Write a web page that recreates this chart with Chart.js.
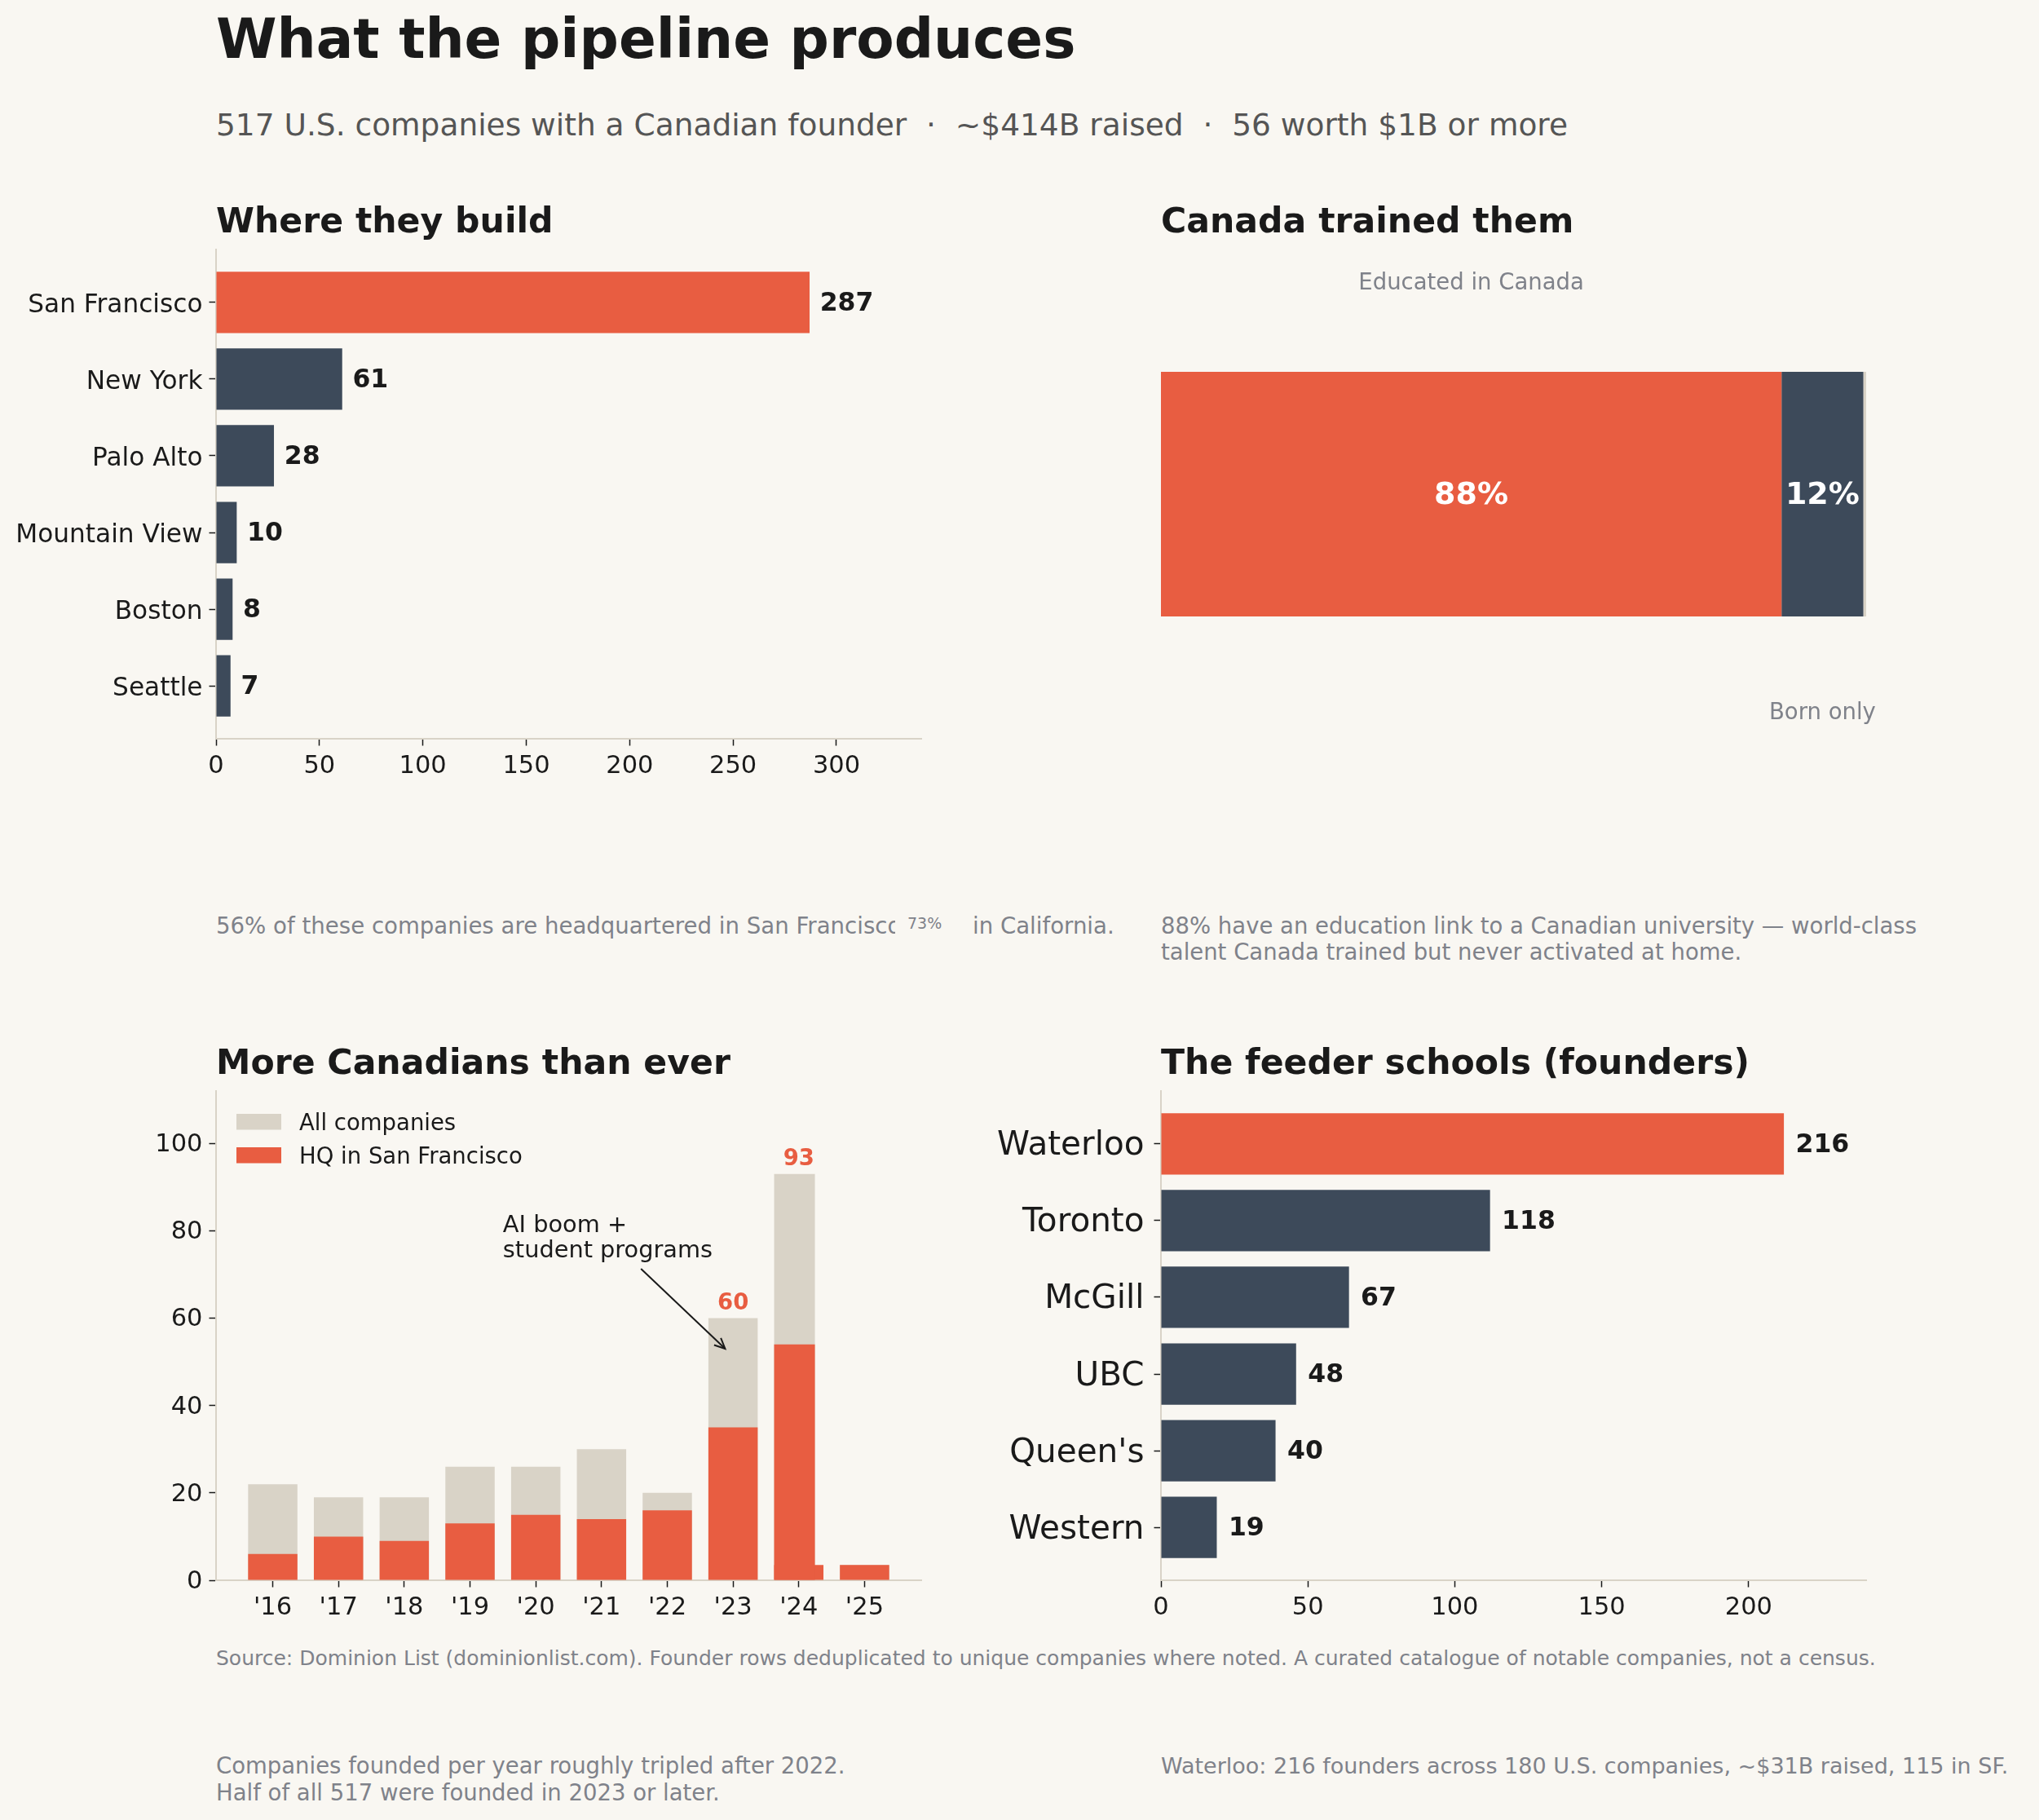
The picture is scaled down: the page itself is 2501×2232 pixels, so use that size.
<!DOCTYPE html>
<html lang="en">
<head>
<meta charset="utf-8">
<title>What the pipeline produces</title>
<script src="https://cdn.jsdelivr.net/npm/chart.js@4.4.1/dist/chart.umd.min.js"></script>
<style>
  html, body { margin: 0; padding: 0; background: #F9F7F2; }
  body { position: relative; width: 2501px; height: 2232px; overflow: hidden; }
  canvas { position: absolute; }
  .txt { position: absolute; white-space: pre; font-family: 'DejaVu Sans', sans-serif; margin: 0; }
</style>
</head>
<body>
<script>
// ---------------- data ----------------
const cities = ['San Francisco', 'New York', 'Palo Alto', 'Mountain View', 'Boston', 'Seattle'];
const cityCompanies = [287, 61, 28, 10, 8, 7];
const cityTicks = [0, 50, 100, 150, 200, 250, 300];

const educationGroups = ['Educated in Canada', 'Born only', 'Not classified'];
const educationShares = [88.0, 11.6, 0.4];
const educationShareLabels = ['88%', '12%', ''];
const educationCaptionSide = ['above', 'below', null];

const years = ["'16", "'17", "'18", "'19", "'20", "'21", "'22", "'23", "'24", "'25"];
const allCompanies = [22, 19, 19, 26, 26, 30, 20, 60, 93, 3.5];
const hqSanFrancisco = [6, 10, 9, 13, 15, 14, 16, 35, 54, 3.5];
const hqSanFranciscoPartial = [null, null, null, null, null, null, null, null, 3.5, null];
const narrowYears = ["'24"];
const labelledYears = ["'23", "'24"];
const yearTicks = [0, 20, 40, 60, 80, 100];

const schools = ['Waterloo', 'Toronto', 'McGill', 'UBC', "Queen's", 'Western'];
const schoolBars = [212, 112, 64, 46, 39, 19];
const schoolFounders = [216, 118, 67, 48, 40, 19];
const schoolTicks = [0, 50, 100, 150, 200];

const annotation = { lines: ['AI boom +', 'student programs'], textAt: [3.5, 79.7], from: [5.6, 71.3], to: [6.88, 53] };

// ---------------- style ----------------
const FONT = "'DejaVu Sans', sans-serif";
const ORANGE = '#E85D41', SLATE = '#3D4A5A', BEIGE = '#D9D3C7', INK = '#1A1A1A';
const GRAY = '#7F828A', SUB = '#555555', BG = '#F9F7F2', SPINE = '#D9D3C7';

function catMargin(n, w) { return w / 2 + 0.05 * (n - 1 + w); }

function makeCanvas(left, top, w, h) {
  const c = document.createElement('canvas');
  c.width = w; c.height = h;
  c.style.left = left + 'px'; c.style.top = top + 'px';
  c.style.width = w + 'px'; c.style.height = h + 'px';
  document.body.appendChild(c);
  return c;
}

function linAxis(o) {
  return {
    type: 'linear', min: o.min, max: o.max, reverse: !!o.reverse, offset: false,
    display: o.display === undefined ? true : o.display,
    afterBuildTicks: ax => { ax.ticks = o.tickValues.map(v => ({ value: v })); },
    afterFit: s => { if (o.fitW != null) s.width = o.fitW; if (o.fitH != null) s.height = o.fitH; },
    border: { display: true, color: SPINE, width: 2 },
    grid: { offset: false, drawOnChartArea: false, drawTicks: true, tickLength: 8.5, tickWidth: 1.5, tickColor: INK, color: 'rgba(0,0,0,0)' },
    ticks: {
      display: o.display === undefined ? true : o.display,
      color: INK, font: { family: FONT, size: o.size || 30.5 }, padding: o.pad || 8,
      labelOffset: o.labelOffset || 0,
      autoSkip: false, maxRotation: 0, minRotation: 0,
      callback: (v, i) => o.labels ? o.labels[i] : String(v)
    }
  };
}

function baseOptions(extra) {
  return Object.assign({
    responsive: false, animation: false, devicePixelRatio: 1,
    plugins: { legend: { display: false }, tooltip: { enabled: false } }
  }, extra);
}

function barEndLabels(labels, size, unitsGap) {
  return {
    id: 'barEndLabels',
    afterDatasetsDraw(chart) {
      const ctx = chart.ctx, meta = chart.getDatasetMeta(0), xs = chart.scales.x;
      ctx.save();
      ctx.font = `bold ${size}px ${FONT}`;
      ctx.fillStyle = INK; ctx.textAlign = 'left'; ctx.textBaseline = 'middle';
      meta.data.forEach((bar, i) => {
        const v = meta._parsed[i].x;
        ctx.fillText(String(labels[i]), xs.getPixelForValue(v + unitsGap), bar.y + 0.06 * size);
      });
      ctx.restore();
    }
  };
}

// ---------------- panel 1: where they build ----------------
(function () {
  const m = catMargin(cities.length, 0.8);
  const c = makeCanvas(0, 266, 1240, 714);
  new Chart(c, {
    type: 'bar',
    data: { datasets: [{
      label: 'Companies',
      data: cityCompanies.map((v, i) => ({ x: v, y: i })),
      backgroundColor: cityCompanies.map((v, i) => i === 0 ? ORANGE : SLATE),
      barPercentage: 0.8, categoryPercentage: 1
    }] },
    options: baseOptions({
      indexAxis: 'y',
      layout: { padding: { left: 0, top: 40, right: 110, bottom: 0 } },
      scales: {
        x: linAxis({ min: 0, max: 341, tickValues: cityTicks, pad: 7, fitH: 74 }),
        y: linAxis({ min: -m, max: cities.length - 1 + m, reverse: true, tickValues: cities.map((_, i) => i), labels: cities, size: 31.2, pad: 8, labelOffset: 4, fitW: 265 })
      }
    }),
    plugins: [barEndLabels(cityCompanies, 31.5, 5)]
  });
})();

// ---------------- panel 2: Canada trained them ----------------
(function () {
  const c = makeCanvas(1300, 266, 1201, 714);
  const colors = [ORANGE, SLATE, BEIGE];
  new Chart(c, {
    type: 'bar',
    data: { datasets: educationShares.map((v, i) => ({
      label: educationGroups[i], data: [{ x: v, y: 0 }], backgroundColor: colors[i],
      barPercentage: 0.5, categoryPercentage: 1
    })) },
    options: baseOptions({
      indexAxis: 'y',
      layout: { padding: { left: 124, top: 40, right: 212, bottom: 74 } },
      scales: {
        x: { type: 'linear', stacked: true, min: 0, max: 100, display: false, ticks: { display: false } },
        y: { type: 'linear', stacked: true, min: -1, max: 1, display: false, offset: false,
             afterBuildTicks: ax => { ax.ticks = [{ value: 0 }]; }, ticks: { display: false } }
      }
    }),
    plugins: [{
      id: 'shareLabels',
      afterDatasetsDraw(chart) {
        const ctx = chart.ctx;
        ctx.save();
        chart.data.datasets.forEach((ds, i) => {
          const bar = chart.getDatasetMeta(i).data[0];
          const l = Math.min(bar.base, bar.x), r = Math.max(bar.base, bar.x);
          const cx = (l + r) / 2;
          if (educationShareLabels[i]) {
            ctx.font = `bold 38px ${FONT}`; ctx.fillStyle = '#FFFFFF';
            ctx.textAlign = 'center'; ctx.textBaseline = 'middle';
            ctx.fillText(educationShareLabels[i], cx, bar.y + 2.5);
          }
          const side = educationCaptionSide[i];
          if (side) {
            ctx.font = `27.5px ${FONT}`; ctx.fillStyle = GRAY;
            ctx.textAlign = 'center'; ctx.textBaseline = 'alphabetic';
            const yb = side === 'above' ? bar.y - bar.height / 2 - 101 : bar.y + bar.height / 2 + 126;
            ctx.fillText(ds.label, cx, yb);
          }
        });
        ctx.restore();
      }
    }]
  });
})();

// ---------------- panel 3: more Canadians than ever ----------------
(function () {
  const W = 0.75, NW = 0.62;
  const m = catMargin(years.length, W);
  const isNarrow = y => narrowYears.includes(y);
  const pts = (arr, keep, shift) => arr.map((v, i) => ({ x: i + (shift || 0), y: v }))
    .filter((p, i) => p.y != null && keep(years[i]));
  const shift = -(W - NW) / 2;
  const c = makeCanvas(0, 1298, 1240, 714);
  const xOpts = linAxis({ min: -m, max: years.length - 1 + m, tickValues: years.map((_, i) => i), labels: years, pad: 7, fitH: 74 });
  const x2Opts = linAxis({ min: -m, max: years.length - 1 + m, tickValues: years.map((_, i) => i), display: false });
  new Chart(c, {
    type: 'bar',
    data: { datasets: [
      { label: 'All companies', inLegend: true, data: pts(allCompanies, y => !isNarrow(y)), backgroundColor: BEIGE, barPercentage: W, categoryPercentage: 1, grouped: false, order: 2 },
      { label: 'HQ in San Francisco', inLegend: true, data: pts(hqSanFrancisco, y => !isNarrow(y)), backgroundColor: ORANGE, barPercentage: W, categoryPercentage: 1, grouped: false, order: 1 },
      { label: 'HQ in San Francisco (partial)', data: pts(hqSanFranciscoPartial, () => true), backgroundColor: ORANGE, barPercentage: W, categoryPercentage: 1, grouped: false, order: 1 },
      { label: 'All companies', xAxisID: 'x2', data: pts(allCompanies, isNarrow, shift), backgroundColor: BEIGE, barPercentage: NW, categoryPercentage: 1, grouped: false, order: 2 },
      { label: 'HQ in San Francisco', xAxisID: 'x2', data: pts(hqSanFrancisco, isNarrow, shift), backgroundColor: ORANGE, barPercentage: NW, categoryPercentage: 1, grouped: false, order: 0 }
    ] },
    options: baseOptions({
      layout: { padding: { left: 0, top: 40, right: 110, bottom: 0 } },
      scales: {
        x: xOpts,
        x2: Object.assign(x2Opts, { position: 'bottom' }),
        y: linAxis({ min: 0, max: 112, tickValues: yearTicks, pad: 8, labelOffset: 2, fitW: 265 })
      }
    }),
    plugins: [{
      id: 'yearsOverlay',
      afterDatasetsDraw(chart) {
        const { ctx, chartArea } = chart;
        const x = chart.scales.x, y = chart.scales.y;
        ctx.save();
        // totals above highlighted years
        ctx.font = `bold 27.5px ${FONT}`; ctx.fillStyle = ORANGE;
        ctx.textAlign = 'center'; ctx.textBaseline = 'alphabetic';
        labelledYears.forEach(yr => {
          const i = years.indexOf(yr);
          ctx.fillText(String(allCompanies[i]), x.getPixelForValue(i), y.getPixelForValue(allCompanies[i]) - 11);
        });
        // annotation text + arrow
        ctx.font = `28.8px ${FONT}`; ctx.fillStyle = INK; ctx.textAlign = 'left';
        const tx = x.getPixelForValue(annotation.textAt[0]), ty = y.getPixelForValue(annotation.textAt[1]);
        annotation.lines.forEach((ln, k) => ctx.fillText(ln, tx, ty + k * 31));
        const x0 = x.getPixelForValue(annotation.from[0]), y0 = y.getPixelForValue(annotation.from[1]);
        const x1 = x.getPixelForValue(annotation.to[0]), y1 = y.getPixelForValue(annotation.to[1]);
        ctx.strokeStyle = INK; ctx.lineWidth = 2; ctx.lineCap = 'butt';
        ctx.beginPath(); ctx.moveTo(x0, y0); ctx.lineTo(x1, y1); ctx.stroke();
        const a = Math.atan2(y1 - y0, x1 - x0), hl = 13, hw = 6;
        ctx.beginPath();
        ctx.moveTo(x1 - hl * Math.cos(a) + hw * Math.sin(a), y1 - hl * Math.sin(a) - hw * Math.cos(a));
        ctx.lineTo(x1, y1);
        ctx.lineTo(x1 - hl * Math.cos(a) - hw * Math.sin(a), y1 - hl * Math.sin(a) + hw * Math.cos(a));
        ctx.stroke();
        // legend (inside axes, top-left)
        chart.data.datasets.filter(d => d.inLegend).forEach((d, k) => {
          const top = chartArea.top + 28 + k * 41;
          ctx.fillStyle = d.backgroundColor;
          ctx.fillRect(chartArea.left + 25, top, 55, 19.5);
          ctx.fillStyle = INK; ctx.font = `27.5px ${FONT}`;
          ctx.textAlign = 'left'; ctx.textBaseline = 'middle';
          ctx.fillText(d.label, chartArea.left + 102, top + 12.5);
        });
        ctx.restore();
      }
    }]
  });
})();

// ---------------- panel 4: feeder schools ----------------
(function () {
  const m = catMargin(schools.length, 0.8);
  const c = makeCanvas(1180, 1298, 1321, 714);
  new Chart(c, {
    type: 'bar',
    data: { datasets: [{
      label: 'Founders',
      data: schoolBars.map((v, i) => ({ x: v, y: i })),
      backgroundColor: schoolBars.map((v, i) => i === 0 ? ORANGE : SLATE),
      barPercentage: 0.8, categoryPercentage: 1
    }] },
    options: baseOptions({
      indexAxis: 'y',
      layout: { padding: { left: 0, top: 40, right: 212, bottom: 0 } },
      scales: {
        x: linAxis({ min: 0, max: 240, tickValues: schoolTicks, pad: 7, fitH: 74 }),
        y: linAxis({ min: -m, max: schools.length - 1 + m, reverse: true, tickValues: schools.map((_, i) => i), labels: schools, size: 40.5, pad: 12, labelOffset: 3, fitW: 244 })
      }
    }),
    plugins: [barEndLabels(schoolFounders, 31.5, 4)]
  });
})();

// ---------------- text ----------------
function addText(str, x, baseline, size, opt) {
  opt = opt || {};
  const lh = opt.lh || Math.round(size * 1.2);
  const d = document.createElement('div');
  d.className = 'txt';
  d.style.fontSize = size + 'px';
  d.style.lineHeight = lh + 'px';
  d.style.fontWeight = opt.weight || 'normal';
  d.style.color = opt.color || INK;
  d.style.left = x + 'px';
  d.style.top = (baseline - ((lh - 1.164 * size) / 2 + 0.928 * size)) + 'px';
  d.textContent = str;
  document.body.appendChild(d);
  return d;
}

addText('What the pipeline produces', 265, 70.7, 67.6, { weight: 'bold' });
addText('517 U.S. companies with a Canadian founder  \u00b7  ~$414B raised  \u00b7  56 worth $1B or more', 265, 166.5, 37.5, { color: SUB });
addText('Where they build', 265, 285, 42.6, { weight: 'bold' });
addText('Canada trained them', 1424, 285, 42.6, { weight: 'bold' });
addText('More Canadians than ever', 265, 1317, 42.6, { weight: 'bold' });
addText('The feeder schools (founders)', 1424, 1317, 42.6, { weight: 'bold' });

addText('56% of these companies are headquartered in San Francisco, 73% in California.', 265, 1145, 27.6, { color: GRAY });
(function () {
  const mask = document.createElement('div');
  mask.style.cssText = 'position:absolute;left:1098px;top:1114px;width:93px;height:42px;background:' + BG + ';';
  document.body.appendChild(mask);
})();
addText('73%', 1113, 1139, 19, { color: GRAY });
addText('88% have an education link to a Canadian university \u2014 world-class\ntalent Canada trained but never activated at home.', 1424, 1145, 27.5, { color: GRAY, lh: 32 });

addText('Source: Dominion List (dominionlist.com). Founder rows deduplicated to unique companies where noted. A curated catalogue of notable companies, not a census.', 265, 2043, 25, { color: GRAY });
addText('Companies founded per year roughly tripled after 2022.\nHalf of all 517 were founded in 2023 or later.', 265, 2175, 27.5, { color: GRAY, lh: 33 });
addText('Waterloo: 216 founders across 180 U.S. companies, ~$31B raised, 115 in SF.', 1424, 2175, 27.0, { color: GRAY });
</script>
</body>
</html>
